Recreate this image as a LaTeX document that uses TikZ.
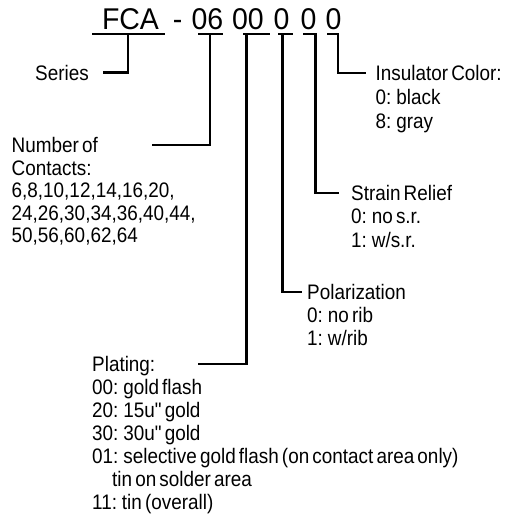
\documentclass[tikz,border=0pt]{standalone}
\usepackage{fontspec}
\setmainfont{Liberation Sans}
\newfontfamily\bodyfont{Liberation Sans}[FakeStretch=0.9, WordSpace=0.6]
\newfontfamily\codefont{Liberation Sans}[FakeStretch=0.95]
\begin{document}
\begin{tikzpicture}[x=1pt,y=-1pt,
  lbl/.style={font=\bodyfont\fontsize{21}{22.5}\selectfont, inner sep=0pt, anchor=base west},
  code/.style={font=\codefont\fontsize{30}{30}\selectfont, inner sep=0pt, anchor=base},
  conn/.style={line width=2.5pt, line join=miter}]
\useasboundingbox (0,0) rectangle (504,530);

% part number
\node[code] (fca) at (130.5,29.5) {FCA};
\node[code] (dash) at (177.5,29.5) {-};
\node[code] (c06) at (207.5,29.5) {06};
\node[code] (c00) at (248,29.5) {00};
\node[code] (cpol) at (281.5,29.5) {0};
\node[code] (cstr) at (308.5,29.5) {0};
\node[code] (cins) at (333.5,29.5) {0};

% underline coordinates
\coordinate (fcaL) at (92,34);   \coordinate (fcaR) at (165,34);  \coordinate (fcaJ) at (128,34);
\coordinate (n06L) at (198,34);  \coordinate (n06R) at (223,34);  \coordinate (n06J) at (210,34);
\coordinate (n00L) at (243,34);  \coordinate (n00R) at (270,34);  \coordinate (n00J) at (246.5,34);
\coordinate (polL) at (278,34);  \coordinate (polR) at (293,34);  \coordinate (polJ) at (282.5,34);
\coordinate (strL) at (303,34);  \coordinate (strR) at (317,34);  \coordinate (strJ) at (315.5,34);
\coordinate (insL) at (327,34);  \coordinate (insR) at (339,34);  \coordinate (insJ) at (338,34);

% Series
\node[lbl, anchor=base east] (series) at (89,80) {Series};
\coordinate (seriesE) at (103,72.5);

% Number of contacts
\node[lbl] (num1) at (11.5,152.5) {Number of};
\node[lbl] (num2) at (11.5,175) {Contacts:};
\node[lbl] (num3) at (11.5,197.5) {6,8,10,12,14,16,20,};
\node[lbl] (num4) at (11.5,220) {24,26,30,34,36,40,44,};
\node[lbl] (num5) at (11.5,242.5) {50,56,60,62,64};
\coordinate (numE) at (152,145);

% Insulator color
\node[lbl] (ins1) at (375.5,80) {Insulator Color:};
\node[lbl] (ins2) at (375.5,104) {0: black};
\node[lbl] (ins3) at (375.5,128) {8: gray};
\coordinate (insE) at (366,73);

% Strain relief
\node[lbl] (str1) at (351,200) {Strain Relief};
\node[lbl] (str2) at (351,223.5) {0: no s.r.};
\node[lbl] (str3) at (351,247) {1: w/s.r.};
\coordinate (strE) at (339,193);

% Polarization
\node[lbl] (pol1) at (307,299) {Polarization};
\node[lbl] (pol2) at (307,322) {0: no rib};
\node[lbl] (pol3) at (307,345) {1: w/rib};
\coordinate (polE) at (302,292);

% Plating
\node[lbl] (pla1) at (92,371) {Plating:};
\node[lbl] (pla2) at (92,394) {00: gold flash};
\node[lbl] (pla3) at (92,417) {20: 15u" gold};
\node[lbl] (pla4) at (92,440) {30: 30u" gold};
\node[lbl] (pla5) at (92,463) {01: selective gold flash (on contact area only)};
\node[lbl] (pla6) at (112,486) {tin on solder area};
\node[lbl] (pla7) at (92,509) {11: tin (overall)};
\coordinate (plaE) at (198,364);

% connectors
\draw[conn] (fcaL) -- (fcaR);  \draw[conn] (fcaJ) |- (seriesE);
\draw[conn] (n06L) -- (n06R);  \draw[conn] (n06J) |- (numE);
\draw[conn] (n00L) -- (n00R);  \draw[conn] (n00J) |- (plaE);
\draw[conn] (polL) -- (polR);  \draw[conn] (polJ) |- (polE);
\draw[conn] (strL) -- (strR);  \draw[conn] (strJ) |- (strE);
\draw[conn] (insL) -- (insR);  \draw[conn] (insJ) |- (insE);
\end{tikzpicture}
\end{document}
